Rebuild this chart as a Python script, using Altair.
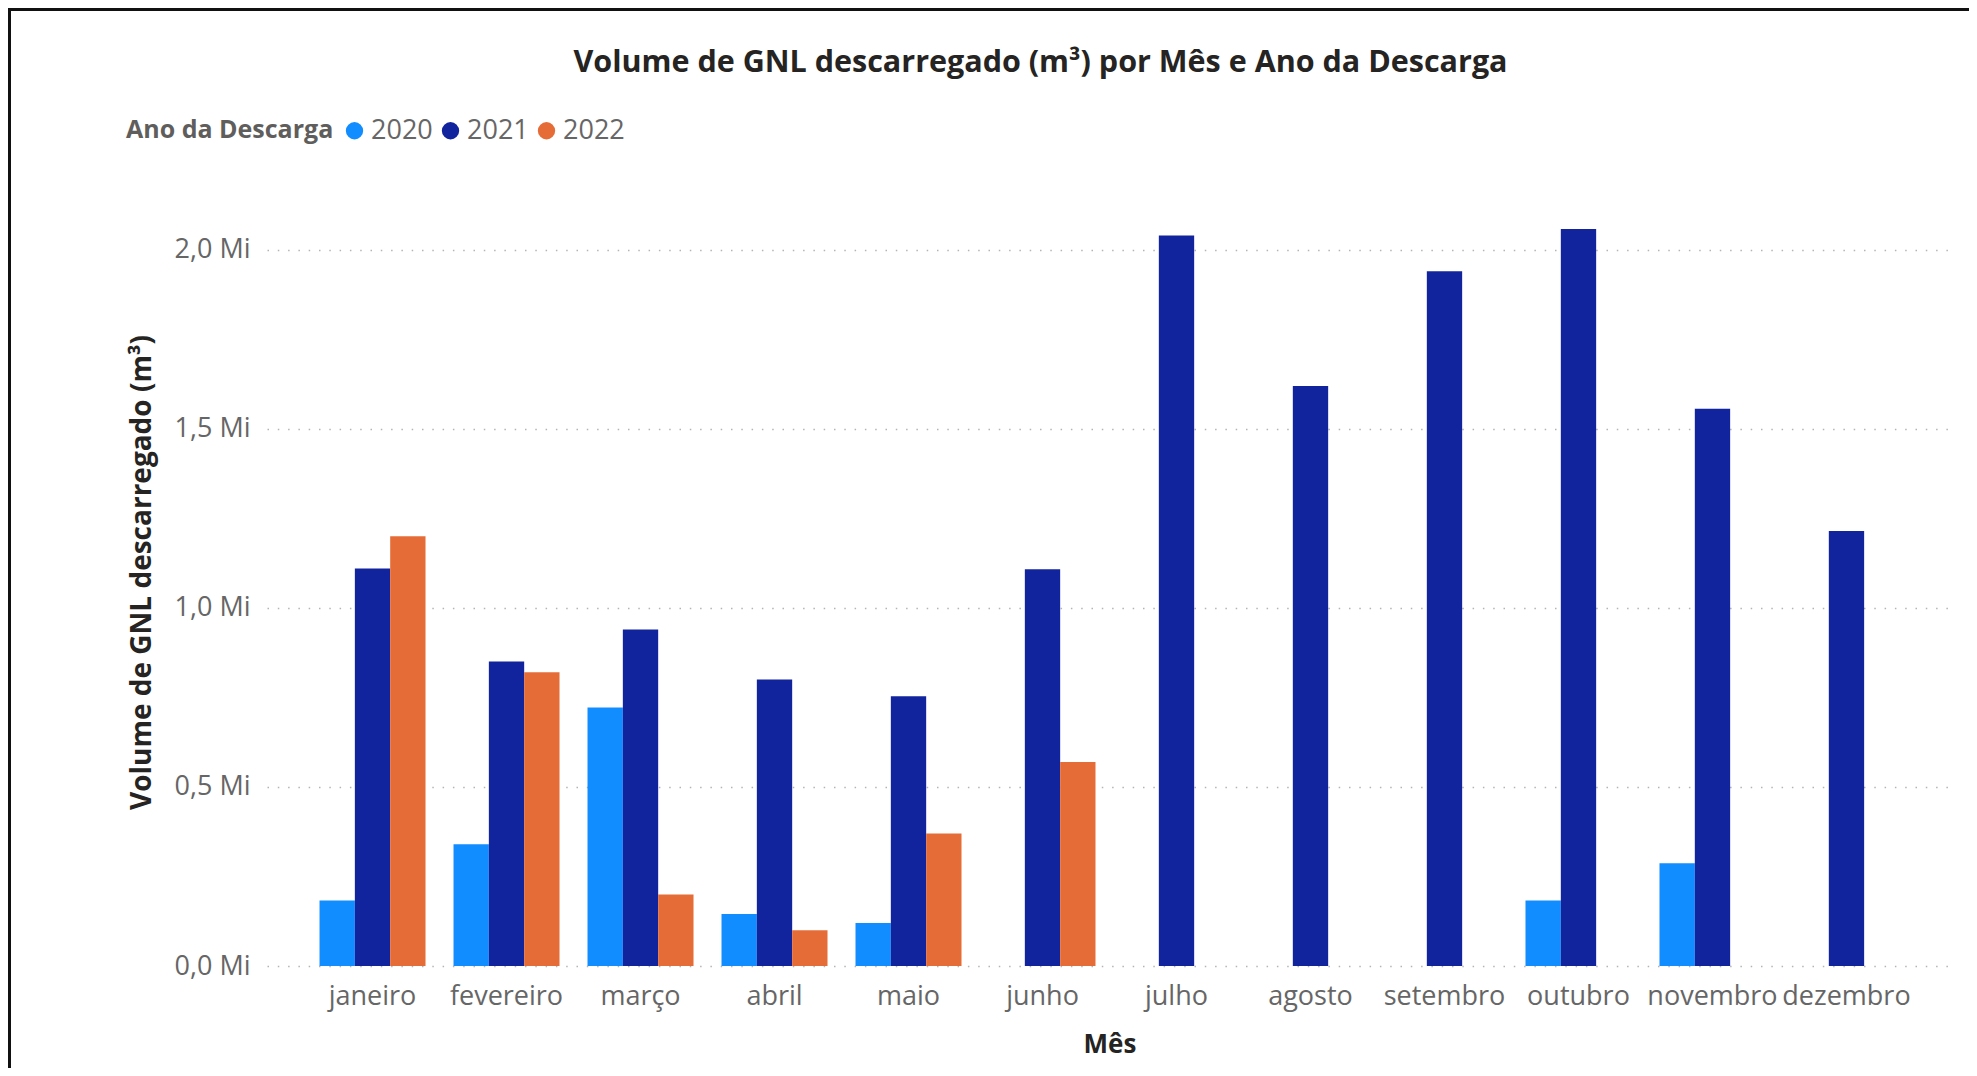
import altair as alt
import pandas as pd

meses = ["janeiro", "fevereiro", "março", "abril", "maio", "junho",
         "julho", "agosto", "setembro", "outubro", "novembro", "dezembro"]
anos = ["2020", "2021", "2022"]
# volumes in millions of m³ (Mi); None = no discharge that month
v2020 = [0.183, 0.340, 0.722, 0.145, 0.120, None, None, None, None, 0.183, 0.287, None]
v2021 = [1.110, 0.850, 0.940, 0.800, 0.753, 1.108, 2.040, 1.620, 1.940, 2.058, 1.556, 1.215]
v2022 = [1.200, 0.820, 0.200, 0.100, 0.370, 0.570, None, None, None, None, None, None]
cores = ["#118DFF", "#12239E", "#E66C37"]
ticks_y = [0.0, 0.5, 1.0, 1.5, 2.0]

rows = []
for ano, serie in zip(anos, [v2020, v2021, v2022]):
    for mes, v in zip(meses, serie):
        if v is not None:
            rows.append({"mes": mes, "ano": ano, "volume": v * 1e6})
df = pd.DataFrame(rows)

FONT = "Open Sans"
GRAY = "#666666"
DARK = "#252423"

W, H = 1685, 752
PAD = {"left": 259, "top": 206, "right": 17, "bottom": 102}

bars = alt.Chart(df).mark_bar().encode(
    x=alt.X(
        "mes:N", sort=meses,
        scale=alt.Scale(paddingInner=0.209, paddingOuter=0.392),
        axis=alt.Axis(
            title="Mês", labelAngle=0, ticks=False, tickSize=0, domain=False, grid=False,
            labelFont=FONT, labelFontSize=27, labelColor=GRAY,
            labelPadding=38, labelBaseline="alphabetic",
            titleFont=FONT, titleFontSize=26, titleFontWeight="bold", titleColor=DARK,
            titleY=78, titleBaseline="middle",
        ),
    ),
    xOffset=alt.XOffset("ano:N", sort=anos, scale=alt.Scale(paddingInner=0, paddingOuter=0)),
    y=alt.Y(
        "volume:Q",
        scale=alt.Scale(domain=[0, 2100000], nice=False),
        axis=alt.Axis(
            values=[t * 1e6 for t in ticks_y],
            labelExpr="replace(format(datum.value/1000000, '.1f'), '.', ',') + ' Mi'",
            title="Volume de GNL descarregado (m³)",
            ticks=False, tickSize=0, domain=False,
            grid=True, gridColor="#b4b4b4", gridDash=[1.5, 8.8], gridWidth=1.5,
            labelFont=FONT, labelFontSize=27, labelColor=GRAY, labelPadding=17,
            titleFont=FONT, titleFontSize=28, titleFontWeight="bold", titleColor=DARK,
            titleAngle=270, titleX=-125, titleY=358,
            titleAlign="center", titleBaseline="middle",
        ),
    ),
    color=alt.Color(
        "ano:N",
        scale=alt.Scale(domain=anos, range=cores),
        legend=alt.Legend(
            title="Ano da Descarga", orient="none", legendX=-141, legendY=-97,
            direction="horizontal", titleOrient="left", titleLimit=500,
            symbolType="circle", symbolSize=300, symbolStrokeWidth=0,
            labelFont=FONT, labelFontSize=27, labelColor=GRAY, labelOffset=3,
            titleFont=FONT, titleFontSize=25, titleFontWeight="bold", titleColor="#605E5C",
            titlePadding=7, columnPadding=4,
        ),
    ),
)

frame_data = alt.Data(values=[{"k": 1}])
frame_left = alt.Chart(frame_data).mark_rule(color="#111111", strokeWidth=3).encode(
    x=alt.value(-257.5), y=alt.value(-206), y2=alt.value(H + PAD["bottom"])
)
frame_top = alt.Chart(frame_data).mark_rule(color="#111111", strokeWidth=3).encode(
    x=alt.value(-259), x2=alt.value(W + PAD["right"]), y=alt.value(-204.5)
)

chart = alt.layer(bars, frame_left, frame_top).properties(
    width=W, height=H,
    padding=PAD,
    autosize=alt.AutoSizeParams(type="none"),
    title=alt.TitleParams(
        text="Volume de GNL descarregado (m³) por Mês e Ano da Descarga",
        anchor="middle", dx=-69, dy=76, font=FONT, fontSize=30.5, fontWeight="bold", color=DARK,
    ),
).configure(font=FONT).configure_view(stroke=None)

chart.save("out.html", embed_options={"renderer": "svg", "actions": False})
